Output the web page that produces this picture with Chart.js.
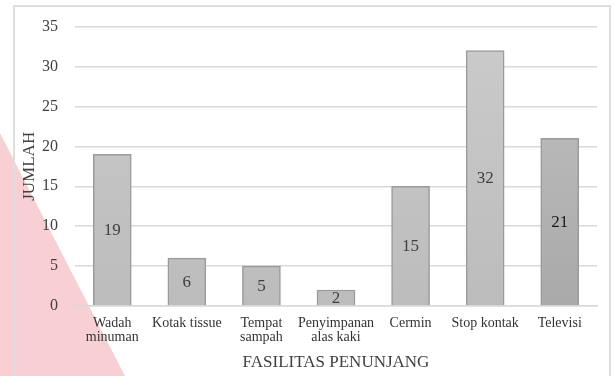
<!DOCTYPE html>
<html>
<head>
<meta charset="utf-8">
<script src="https://cdn.jsdelivr.net/npm/chart.js@4.4.0/dist/chart.umd.min.js"></script>
<style>
    html, body { margin: 0; padding: 0; background: #fff; }
    #wrap { position: relative; width: 614px; height: 376px; overflow: hidden; }
    #stain { position: absolute; left: 0; top: 0; width: 614px; height: 376px;
             background: #f8d0d3; clip-path: polygon(0 133px, 125px 376px, 0 376px); }
    #frame { position: absolute; left: 13px; top: 5px; width: 598px; height: 400px;
             border: 2px solid #dedede; box-sizing: border-box; }
    #chart { position: absolute; left: 0; top: 0; }
</style>
</head>
<body>
<div id="wrap">
    <div id="stain"></div>
    <div id="frame"></div>
    <canvas id="chart" width="614" height="376"></canvas>
</div>
<script>
const categories = [
    ['Wadah', 'minuman'],
    'Kotak tissue',
    ['Tempat', 'sampah'],
    ['Penyimpanan', 'alas kaki'],
    'Cermin',
    'Stop kontak',
    'Televisi'
];
const counts = [19, 6, 5, 2, 15, 32, 21];
const yTicks = [0, 5, 10, 15, 20, 25, 30, 35];

const serif = '"Liberation Serif", "Times New Roman", serif';

// gray gradient per bar, last bar a bit darker
function barFill(ctx) {
    const area = ctx.chart.chartArea;
    if (!area) return '#c4c4c4';
    const g = ctx.chart.ctx.createLinearGradient(0, area.top, 0, area.bottom);
    if (ctx.dataIndex === counts.length - 1) {
        g.addColorStop(0, '#c2c2c2');
        g.addColorStop(1, '#a9a9a9');
    } else {
        g.addColorStop(0, '#cbcbcb');
        g.addColorStop(1, '#bcbcbc');
    }
    return g;
}

const valueLabels = {
    id: 'valueLabels',
    afterDatasetsDraw(chart) {
        const ctx = chart.ctx;
        const meta = chart.getDatasetMeta(0);
        ctx.save();
        ctx.font = '17px ' + serif;
        ctx.textAlign = 'center';
        ctx.textBaseline = 'middle';
        meta.data.forEach((bar, i) => {
            ctx.fillStyle = i === counts.length - 1 ? '#1a1a1a' : '#404040';
            ctx.fillText(String(counts[i]), bar.x, (bar.y + bar.base) / 2 + 1);
        });
        ctx.restore();
    }
};

new Chart(document.getElementById('chart'), {
    type: 'bar',
    data: {
        labels: categories,
        datasets: [{
            data: counts,
            backgroundColor: barFill,
            borderColor: '#9a9a9a',
            borderWidth: 1.5,
            barThickness: 38
        }]
    },
    options: {
        responsive: false,
        animation: false,
        events: [],
        layout: { padding: { left: 19, right: 17, top: 20.5, bottom: 0 } },
        plugins: {
            legend: { display: false },
            tooltip: { enabled: false }
        },
        scales: {
            x: {
                grid: { display: false, drawTicks: false },
                border: { color: '#d9d9d9', width: 1.5 },
                ticks: {
                    color: '#333333',
                    font: { family: serif, size: 14, lineHeight: 1.0 },
                    padding: 10,
                    maxRotation: 0,
                    autoSkip: false
                },
                title: {
                    display: true,
                    text: 'FASILITAS PENUNJANG',
                    color: '#404040',
                    font: { family: serif, size: 17 },
                    padding: { top: 0, bottom: 3 }
                },
                afterFit(scale) { scale.height = 70; }
            },
            y: {
                min: 0,
                max: 35,
                afterBuildTicks(scale) { scale.ticks = yTicks.map(v => ({ value: v })); },
                grid: { color: '#d9d9d9', lineWidth: 1.5, drawTicks: false },
                border: { display: false },
                ticks: {
                    color: '#404040',
                    font: { family: serif, size: 16 },
                    padding: 17
                },
                title: {
                    display: true,
                    text: 'JUMLAH',
                    color: '#404040',
                    font: { family: serif, size: 17 },
                    padding: { top: 0, bottom: 0 }
                },
                afterFit(scale) { scale.width = 56; }
            }
        }
    },
    plugins: [valueLabels]
});
</script>
</body>
</html>
